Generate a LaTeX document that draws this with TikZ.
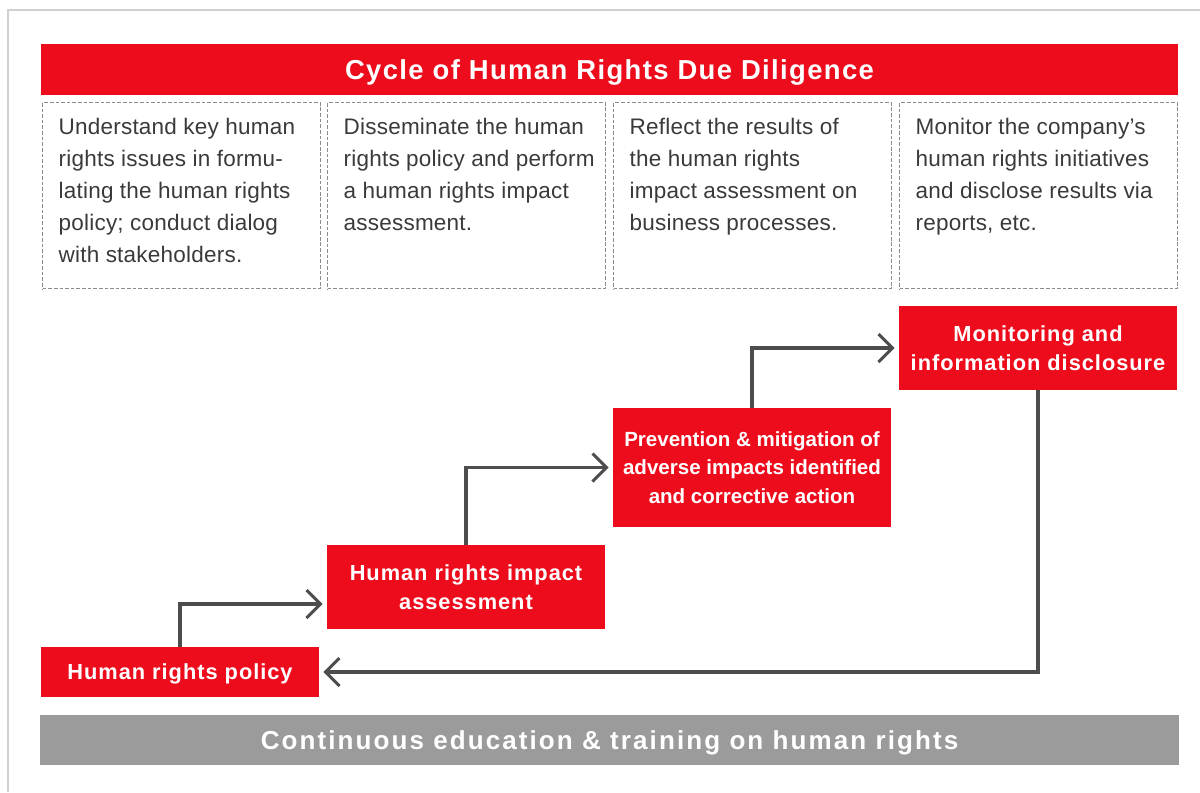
\documentclass[tikz,border=0pt]{standalone}
\usepackage{fontspec}
\setmainfont{Liberation Sans}
\usetikzlibrary{arrows.meta}
\definecolor{hrred}{HTML}{EC0C1C}
\definecolor{bargrey}{HTML}{9B9B9B}
\definecolor{linegrey}{HTML}{4D4D4D}
\definecolor{notegrey}{HTML}{3A3A3A}
\definecolor{dashgrey}{HTML}{8C8C8C}
\definecolor{framegrey}{HTML}{D0D0D0}
\newcommand{\notetext}[1]{\parbox[t][4.17cm][t]{6.15cm}{\begin{tabular}[t]{@{}l@{}}#1\end{tabular}}}

\begin{document}
\begin{tikzpicture}
	[x=0.025cm,y=-0.025cm,
	 header/.style={fill=hrred,text=white,minimum width=28.425cm,minimum height=1.275cm,inner sep=0pt,
		text height=0.5cm,text depth=0pt,font=\fontsize{19.5}{23}\selectfont\bfseries\addfontfeatures{LetterSpace=5}},
	 note/.style={draw=dashgrey,line width=0.9pt,dash pattern=on 2.6pt off 1.4pt,anchor=north west,
		inner xsep=0.4cm,inner ysep=0.24cm,text=notegrey,font=\fontsize{16}{22.7}\selectfont\addfontfeatures{LetterSpace=1}},
	 stepbox/.style={fill=hrred,text=white,minimum width=6.95cm,inner sep=0pt,align=center,text depth=0pt,
		font=\fontsize{15.5}{20.5}\selectfont\bfseries\addfontfeatures{LetterSpace=4.5}},
	 bar/.style={fill=bargrey,text=white,minimum width=28.45cm,minimum height=1.25cm,inner sep=0pt,
		text height=0.48cm,text depth=0pt,font=\fontsize{18.5}{21}\selectfont\bfseries\addfontfeatures{LetterSpace=8}},
	 flow/.style={draw=linegrey,line width=2.2pt,-{Straight Barb[length=3.5mm,width=7mm]},shorten >=0.1cm}]
	\useasboundingbox (0,0) rectangle (1200,792);
	\draw[framegrey,line width=1.4pt] (8,792) -- (8,10) -- (1200,10);

	\node[header] (title) at (609.5,69.5) {Cycle of Human Rights Due Diligence};

	\node[note] (note1) at (42,102)  {\notetext{Understand key human\\ rights issues in formu-\\ lating the human rights\\ policy; conduct dialog\\ with stakeholders.}};
	\node[note] (note2) at (327,102) {\notetext{Disseminate the human\\ rights policy and perform\\ a human rights impact\\ assessment.}};
	\node[note] (note3) at (613,102) {\notetext{Reflect the results of\\ the human rights\\ impact assessment on\\ business processes.}};
	\node[note] (note4) at (899,102) {\notetext{Monitor the company’s\\ human rights initiatives\\ and disclose results via\\ reports, etc.}};

	\node[stepbox,minimum height=1.25cm] (policy) at (180,672) {Human rights policy};
	\node[stepbox,minimum height=2.1cm] (assess) at (466,587) {Human rights impact\\ assessment};
	\node[stepbox,minimum height=2.975cm,font=\fontsize{14.6}{20.5}\selectfont\bfseries] (prevent) at (752,467.5) {Prevention \& mitigation of\\ adverse impacts identified\\ and corrective action};
	\node[stepbox,minimum height=2.1cm] (monitor) at (1038,348) {Monitoring and\\ information disclosure};

	\node[bar] (training) at (609.5,740) {Continuous education \& training on human rights};

	\draw[flow] (policy.north) |- ([yshift=-0.425cm]assess.west);
	\foreach \from/\to in {assess/prevent,prevent/monitor}
	\draw[flow] (\from.north) |- (\to.west);
	\draw[flow] (monitor.south) |- (policy.east);

\end{tikzpicture}
\end{document}
